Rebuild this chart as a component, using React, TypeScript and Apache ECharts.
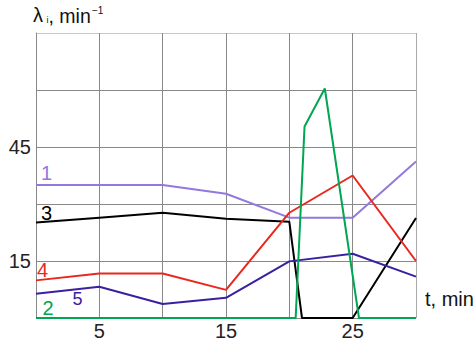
import React, { useEffect, useRef } from "react";
import * as echarts from "echarts";

// time points (min) and failure intensities λi (min^-1)
const t1 = [0, 5, 10, 15, 20, 25, 30];
const s1 = [35, 35, 35, 32.7, 26.4, 26.4, 41.2];
const t2 = [0, 20.5, 21.2, 22.8, 25.5, 30];
const s2 = [0, 0, 50.4, 60.4, 0, 0];
const t3 = [0, 5, 10, 15, 20, 21, 25, 30];
const s3 = [25.1, 26.4, 27.7, 26.1, 25.3, 0, 0, 26.3];
const t4 = [0, 5, 10, 15, 20, 25, 30];
const s4 = [9.9, 11.7, 11.7, 7.4, 27.7, 37.5, 15];
const t5 = [0, 5, 10, 15, 20, 25, 30];
const s5 = [6.4, 8.2, 3.7, 5.3, 14.9, 16.9, 10.9];

const xTickLabels = [5, 15, 25];
const yTickLabels = [15, 45];

const FONT = "'Liberation Sans', Arial, sans-serif";

const pairs = (t: number[], v: number[]) => t.map((x, i) => [x, v[i]]);

export default function App() {
  const ref = useRef<HTMLDivElement>(null);
  useEffect(() => {
    if (!ref.current) return;
    const chart = echarts.init(ref.current, undefined, { renderer: "svg" });
    const lineSeries = (name: string, data: number[][], color: string, z: number) => ({
      name,
      type: "line",
      data,
      symbol: "none",
      z,
      lineStyle: { color, width: 2 },
      itemStyle: { color },
    });
    const txt = (text: string, x: number, y: number, color: string, size = 20, align = "left") => ({
      type: "text",
      x,
      y,
      z: 100,
      style: {
        text,
        fill: color,
        font: `${size}px ${FONT}`,
        align,
        verticalAlign: "middle",
      },
    });
    chart.setOption({
      animation: false,
      grid: { left: 36, right: 60, top: 33, bottom: 24, show: false },
      xAxis: {
        type: "value",
        min: 0,
        max: 30,
        interval: 5,
        axisLine: { show: false },
        axisTick: { show: false },
        splitLine: {
          show: true,
          lineStyle: { color: ["#888", "#888", "#888", "#888", "#888", "#888", "#aaa"], width: 1 },
        },
        axisLabel: {
          margin: 3,
          fontSize: 20,
          fontFamily: FONT,
          color: "#222",
          formatter: (v: number) => (xTickLabels.includes(v) ? String(v) : ""),
        },
      },
      yAxis: {
        type: "value",
        min: 0,
        max: 75,
        interval: 15,
        axisLine: { show: true, lineStyle: { color: "#888", width: 1 } },
        axisTick: { show: false },
        splitLine: {
          show: true,
          lineStyle: { color: ["#888", "#888", "#888", "#888", "#888", "#c8c8c8"], width: 1 },
        },
        axisLabel: {
          margin: 5,
          fontSize: 20,
          fontFamily: FONT,
          color: "#222",
          formatter: (v: number) => (yTickLabels.includes(v) ? String(v) : ""),
        },
      },
      series: [
        lineSeries("1", pairs(t1, s1), "#9478dc", 3),
        lineSeries("3", pairs(t3, s3), "#000000", 4),
        lineSeries("4", pairs(t4, s4), "#e8281e", 5),
        lineSeries("5", pairs(t5, s5), "#3a20a0", 6),
        lineSeries("2", pairs(t2, s2), "#00a651", 7),
      ],
      graphic: [
        txt("λ", 33, 15, "#111", 20),
        txt("i", 46.5, 20, "#111", 9),
        txt(", min", 48.5, 16, "#111", 19.5),
        txt("−1", 92, 10, "#111", 10),
        txt("t, min", 425, 299, "#111", 20),
        txt("1", 46.5, 173, "#9478dc", 20, "center"),
        txt("3", 46.5, 213, "#000000", 20, "center"),
        txt("4", 42.5, 270, "#e8281e", 20, "center"),
        txt("5", 77.5, 299, "#3a20a0", 18, "center"),
        txt("2", 48, 307.5, "#00a651", 20, "center"),
      ],
    });
    return () => chart.dispose();
  }, []);
  return <div ref={ref} style={{ width: 476, height: 342, position: "absolute", left: 0, top: 0 }} />;
}
